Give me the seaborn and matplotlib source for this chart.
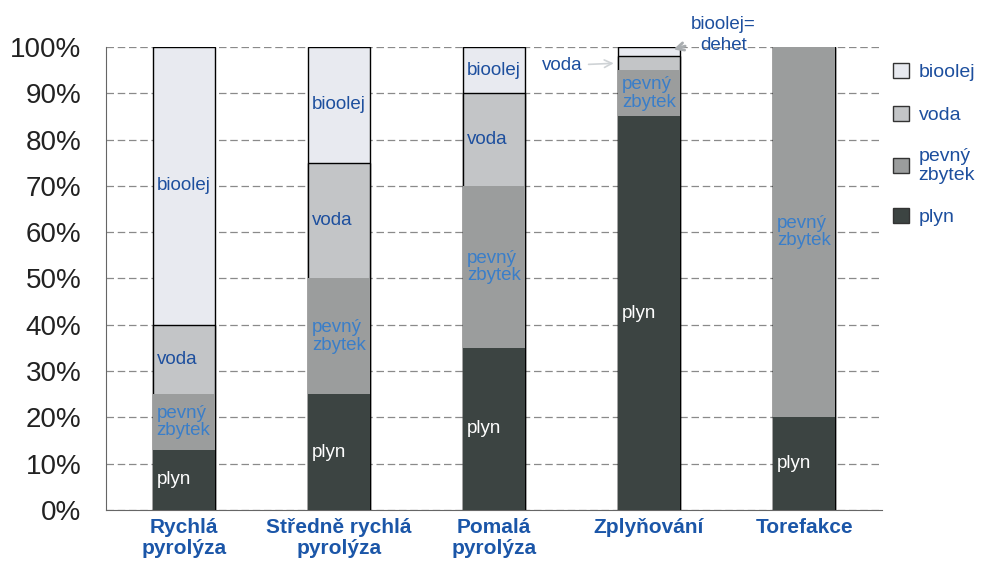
import matplotlib
matplotlib.use("Agg")
import matplotlib.pyplot as plt
import matplotlib.patches as mpatches
import numpy as np
import pandas as pd
import seaborn as sns

# data (percent of product)
categories = ["Rychlá\npyrolýza", "Středně rychlá\npyrolýza", "Pomalá\npyrolýza", "Zplyňování", "Torefakce"]
plyn = [13, 25, 35, 85, 20]
pevny_zbytek = [12, 25, 35, 10, 80]
voda = [15, 25, 20, 3, 0]
bioolej = [60, 25, 10, 2, 0]

series_names = ["plyn", "pevný\nzbytek", "voda", "bioolej"]
series_values = [plyn, pevny_zbytek, voda, bioolej]
colors = ["#3c4442", "#9b9d9d", "#c3c5c7", "#e8eaf0"]
text_colors = ["white", "#3a7ec9", "#1d4f9e", "#1d4f9e"]

sns.set_style("white")
plt.rcParams["font.family"] = ["Liberation Sans", "DejaVu Sans"]

fig = plt.figure(figsize=(9.84, 5.66), dpi=100)
ax = fig.add_axes([0.108, 0.099, 0.788, 0.818])

# stacked bars: draw cumulative totals from the top down
df = pd.DataFrame({"cat": categories})
cum = np.cumsum(np.array(series_values), axis=0)
for k in range(len(series_names) - 1, -1, -1):
    df["v"] = cum[k]
    edge = "black" if k >= 2 else "none"
    sns.barplot(data=df, x="cat", y="v", order=categories, color=colors[k],
                saturation=1, width=0.4, edgecolor=edge, linewidth=1, ax=ax, zorder=3)

# segment labels
bottoms = np.vstack([np.zeros(len(categories)), cum[:-1]])
for k, name in enumerate(series_names):
    for i in range(len(categories)):
        h = series_values[k][i]
        if h < 8:
            continue
        mid = bottoms[k][i] + h / 2
        ax.text(i - 0.2 + 0.025, mid, name, ha="left", va="center", fontsize=13.5,
                color=text_colors[k], zorder=5, linespacing=1.05)

# small segments of Zplyňování annotated outside the bar
ax.annotate("voda", xy=(2.79, 96.5), xytext=(2.44, 96.0), fontsize=13.5, color="#1d4f9e",
            ha="center", va="center", zorder=5,
            arrowprops=dict(arrowstyle="->", color="#cfd3d6", lw=1.2))
ax.annotate("bioolej=\ndehet", xy=(3.14, 99.3), xytext=(3.48, 102.6), fontsize=13.5,
            color="#1d4f9e", ha="center", va="center", linespacing=1.3, zorder=5,
            annotation_clip=False,
            arrowprops=dict(arrowstyle="->", color="#a9adb0", lw=2))

ax.set_ylim(0, 100)
ax.set_xlim(-0.5, 4.5)
ax.set_yticks(np.arange(0, 101, 10))
ax.set_yticklabels([f"{v}%" for v in range(0, 101, 10)], fontsize=20, color="#222222")
ax.yaxis.grid(True, linestyle=(0, (6, 3)), color="#8a8a8a", linewidth=0.9, zorder=0)
ax.set_axisbelow(True)
ax.set_xlabel("")
ax.set_ylabel("")

ax.set_xticks(range(len(categories)))
ax.set_xticklabels(categories, fontsize=15, fontweight="bold", color="#1b56a8",
                   family=["Liberation Sans Narrow", "Liberation Sans", "DejaVu Sans"],
                   linespacing=1.1)
ax.tick_params(axis="x", length=0, pad=6)
ax.set_xticks(np.arange(-0.5, 5.0, 1.0), minor=True)
ax.tick_params(axis="x", which="minor", length=6, direction="out", color="#666666")
ax.tick_params(axis="y", length=8, direction="inout", color="#666666", pad=14)

sns.despine(ax=ax, top=True, right=True)
ax.spines["left"].set_color("#666666")
ax.spines["bottom"].set_color("#666666")

# legend
handles = [mpatches.Patch(facecolor=colors[k], edgecolor="#333333", linewidth=1,
                          label=series_names[k]) for k in range(len(series_names) - 1, -1, -1)]
leg = ax.legend(handles=handles, loc="upper left", bbox_to_anchor=(1.0, 0.99),
                frameon=False, fontsize=14, handlelength=0.8, handleheight=0.8,
                labelspacing=1.25, handletextpad=0.5, borderaxespad=0.2)
for t in leg.get_texts():
    t.set_color("#1d4f9e")
    t.set_linespacing(1.1)

fig.savefig("out.png", dpi=100)
